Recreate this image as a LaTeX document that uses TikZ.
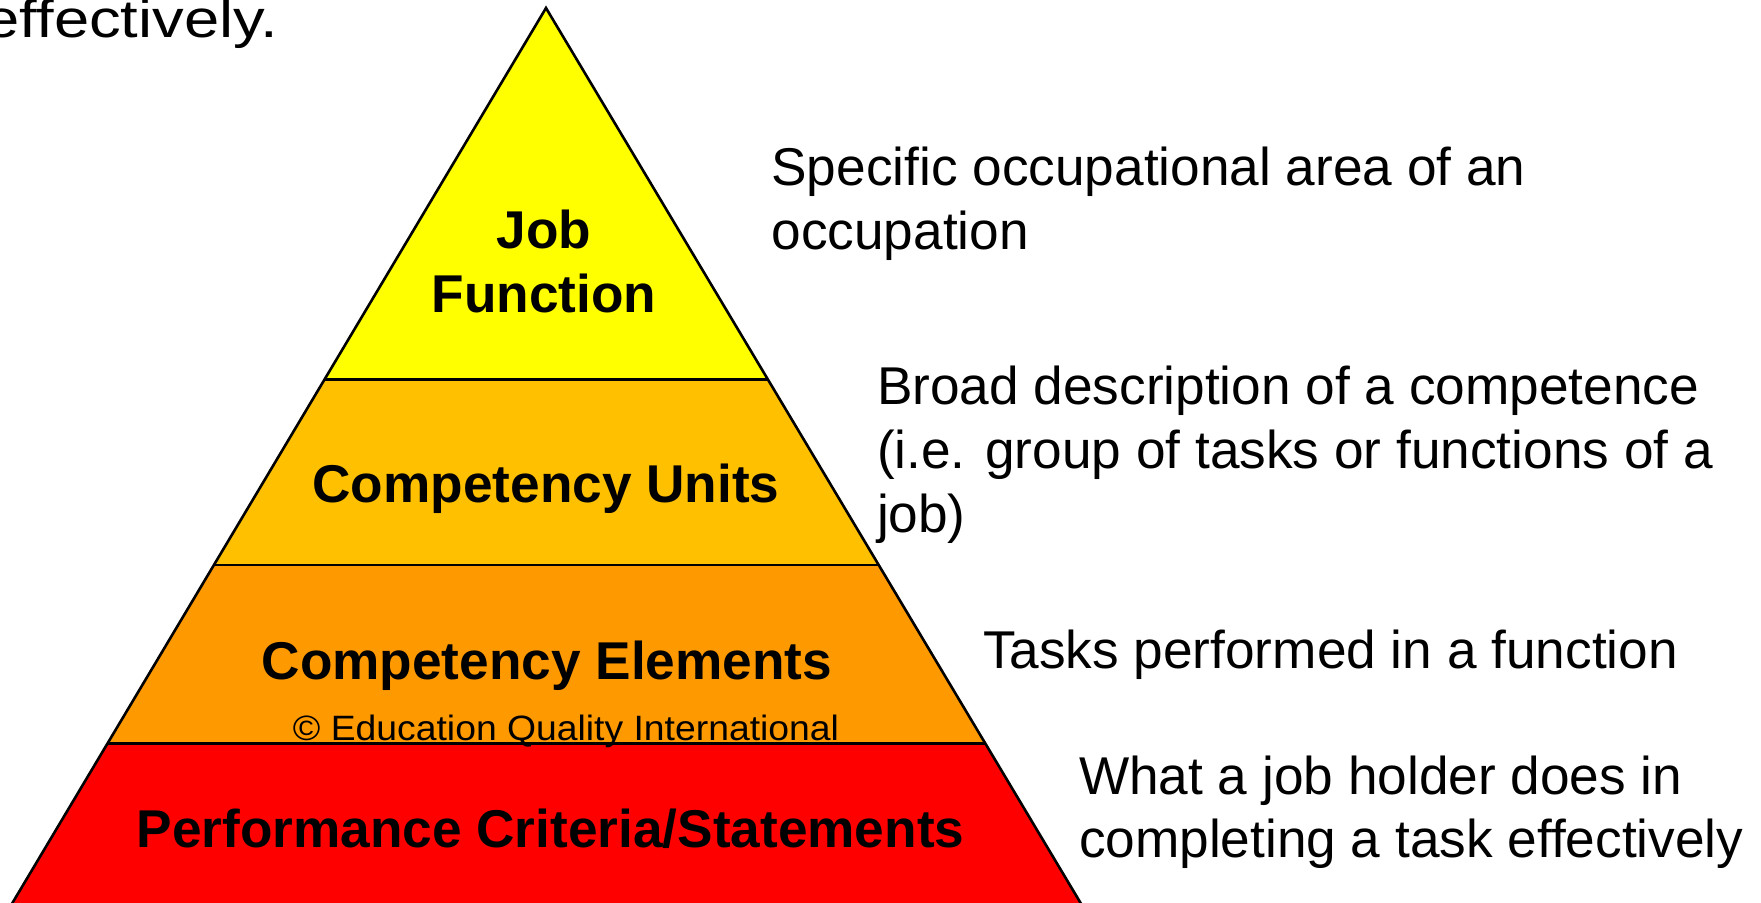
\documentclass[tikz,border=0pt]{standalone}
\usepackage{fontspec}
\usepackage{graphicx}
\setmainfont{Liberation Sans}
\definecolor{lvlA}{HTML}{FFFF00}
\definecolor{lvlB}{HTML}{FFC000}
\definecolor{lvlC}{HTML}{FF9900}
\definecolor{lvlD}{HTML}{FF0000}
\begin{document}
\begin{tikzpicture}[x=0.5pt,y=-0.5pt,
  every node/.style={inner sep=0pt, outer sep=0pt},
  desc/.style={anchor=base west, font=\fontsize{26.6}{32}\selectfont},
  lvl/.style={anchor=base, font=\fontsize{26.6}{32}\selectfont\bfseries},
  edge/.style={draw=black, line width=1.3pt, line join=miter}]
\useasboundingbox (0,0) rectangle (1761,902);
\coordinate (apex) at (546,8);
\coordinate (l1) at (324.5,379.6);
\coordinate (r1) at (767.8,379.6);
\coordinate (l2) at (213.9,565);
\coordinate (r2) at (878.7,565);
\coordinate (l3) at (107.5,743.5);
\coordinate (r3) at (985.5,743.5);
\coordinate (l4) at (8.2,910);
\coordinate (r4) at (1084.8,910);
\begin{scope}
\clip (0,0) rectangle (1761,902);
\fill[lvlA] (apex) -- (r1) -- (l1) -- cycle;
\fill[lvlB] (l1) -- (r1) -- (r2) -- (l2) -- cycle;
\fill[lvlC] (l2) -- (r2) -- (r3) -- (l3) -- cycle;
\fill[lvlD] (l3) -- (r3) -- (r4) -- (l4) -- cycle;
\draw[edge] (l1) -- (r1);
\draw[edge] (l2) -- (r2);
\draw[edge] (l3) -- (r3);
\draw[edge] (l4) -- (apex) -- (r4);
% level labels
\node[lvl] (job) at (544,248) {Job};
\node[lvl] (func) at (544,312) {Function};
\node[lvl] (units) at (546,502) {Competency Units};
\node[lvl] (elems) at (547,679) {Competency Elements};
\node[anchor=base, font=\fontsize{17.6}{21}\selectfont] (copy) at (566,740) {\scalebox{1.06}[1]{© Education Quality International}};
\node[lvl] (perf) at (550.5,847) {Performance Criteria/Statements};
% descriptions
\node[desc, anchor=base east] (eff) at (278,37) {\scalebox{1.19}[1]{effectively.}};
\end{scope}
\node[desc] (spec1) at (771.5,185) {Specific occupational area of an};
\node[desc] (spec2) at (771.5,249) {occupation};
\node[desc] (broad1) at (877,404) {Broad description of a competence};
\node[desc] (broad2) at (877,468) {(i.e. group of tasks or functions of a};
\node[desc] (broad3) at (877,532) {job)};
\node[desc] (tasks) at (983,668) {Tasks performed in a function};
\node[desc] (what1) at (1079,794) {What a job holder does in};
\node[desc] (what2) at (1079,857) {completing a task effectively};
\end{tikzpicture}
\end{document}
